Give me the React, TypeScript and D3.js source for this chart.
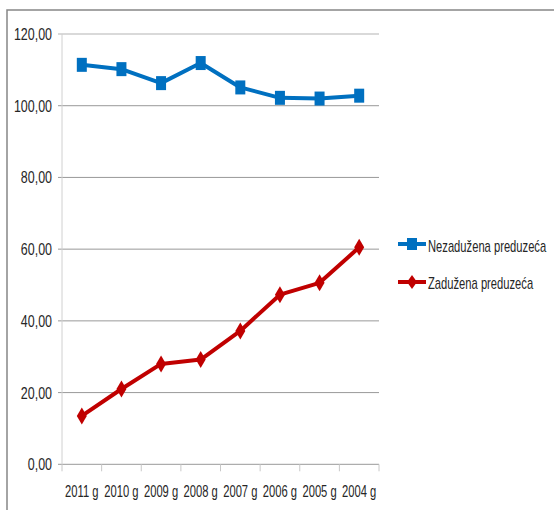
import React from "react";
import * as d3 from "d3";

const categories = ["2011 g", "2010 g", "2009 g", "2008 g", "2007 g", "2006 g", "2005 g", "2004 g"];
const nezaduzena = [111.4, 110.2, 106.3, 111.9, 105.1, 102.2, 102.0, 102.8];
const zaduzena = [13.5, 21.0, 28.0, 29.2, 37.2, 47.3, 50.6, 60.5];
const yTicks = [0, 20, 40, 60, 80, 100, 120];
const seriesNames = ["Nezadužena preduzeća", "Zadužena preduzeća"];

const FONT = "'Liberation Sans', Arial, sans-serif";

function NText(props: { x: number; y: number; sx: number; anchor?: string; children: React.ReactNode }) {
  return (
    <text
      transform={`translate(${props.x},${props.y}) scale(${props.sx},1)`}
      textAnchor={props.anchor || "start"}
      fontFamily={FONT}
      fontSize={16}
      fill="#262626"
    >
      {props.children}
    </text>
  );
}

export default function App() {
  const W = 554, H = 510;
  const left = 62, right = 379, top = 34, bottom = 464.3;
  const x = d3.scaleBand<string>().domain(categories).range([left, right]);
  const y = d3.scaleLinear().domain([0, 120]).range([bottom, top]);
  const cx = (c: string) => (x(c) as number) + x.bandwidth() / 2;
  const line = d3.line<number>().x((_, i) => cx(categories[i])).y((v) => y(v));
  const fmt = (v: number) => v.toFixed(2).replace(".", ",");
  const blue = "#0070C0";
  const red = "#C00000";
  const diamond = (px: number, py: number, w = 5, h = 8.5) =>
    `M${px},${py - h}L${px + w},${py}L${px},${py + h}L${px - w},${py}Z`;

  return (
    <svg width={W} height={H} style={{ position: "absolute", left: 0, top: 0, background: "#fff" }}>
      <rect x={0} y={0} width={W} height={H} fill="#fff" />
      <path d={`M7,${H + 2}V10H${W + 2}`} fill="none" stroke="#868686" strokeWidth={1.5} />
      {yTicks.map((t) => (
        <g key={t}>
          <line x1={left - 4} x2={right} y1={y(t)} y2={y(t)} stroke={t === 120 ? "#b3b3b3" : "#999"} strokeWidth={1} />
          <NText x={52} y={y(t) + 6} sx={0.78} anchor="end">
            {fmt(t)}
          </NText>
        </g>
      ))}
      <line x1={left} x2={left} y1={top} y2={bottom} stroke="#d0d0d0" strokeWidth={1} />
      {categories.map((c) => (
        <line key={"t" + c} x1={x(c) as number} x2={x(c) as number} y1={bottom} y2={bottom + 7} stroke="#c8c8c8" />
      ))}
      <line x1={right} x2={right} y1={bottom} y2={bottom + 7} stroke="#c8c8c8" />
      {categories.map((c) => (
        <NText key={"l" + c} x={cx(c)} y={497} sx={0.7} anchor="middle">
          {c}
        </NText>
      ))}
      <path d={line(nezaduzena) || ""} fill="none" stroke={blue} strokeWidth={4} strokeLinejoin="round" />
      {nezaduzena.map((v, i) => (
        <rect key={"b" + i} x={cx(categories[i]) - 5} y={y(v) - 7} width={10} height={14} fill={blue} />
      ))}
      <path d={line(zaduzena) || ""} fill="none" stroke={red} strokeWidth={4} strokeLinejoin="round" />
      {zaduzena.map((v, i) => (
        <path key={"r" + i} d={diamond(cx(categories[i]), y(v))} fill={red} />
      ))}
      <line x1={398} x2={426} y1={244} y2={244} stroke={blue} strokeWidth={4} />
      <rect x={407} y={238} width={10} height={12} fill={blue} />
      <NText x={428} y={251.5} sx={0.7}>{seriesNames[0]}</NText>
      <line x1={398} x2={426} y1={282} y2={282} stroke={red} strokeWidth={4} />
      <path d={diamond(412, 282, 5, 7)} fill={red} />
      <NText x={428} y={288.5} sx={0.7}>{seriesNames[1]}</NText>
    </svg>
  );
}
